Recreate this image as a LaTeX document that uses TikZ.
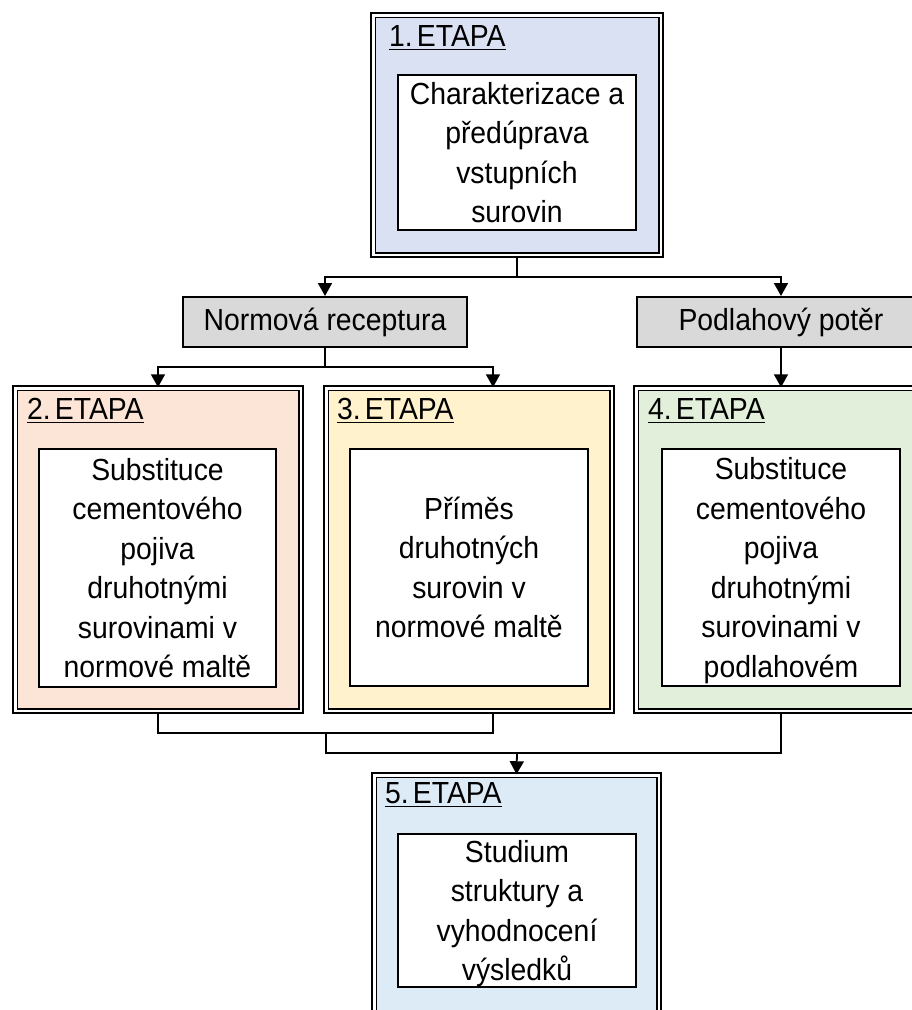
\documentclass[tikz,border=0pt]{standalone}
\usepackage{fontspec}
\setmainfont[FakeStretch=0.93]{Liberation Sans}
\usetikzlibrary{arrows.meta}
\definecolor{cone}{HTML}{DAE1F3}
\definecolor{ctwo}{HTML}{FCE4D6}
\definecolor{cthree}{HTML}{FFF2CC}
\definecolor{cfour}{HTML}{E2EFDA}
\definecolor{cfive}{HTML}{DDEBF7}
\definecolor{cgrey}{HTML}{D9D9D9}
\begin{document}
\begin{tikzpicture}[x=1pt,y=-1pt,
  every node/.style={font=\fontsize{30.5}{39.5}\selectfont},
  stage/.style={draw=black, line width=1.7pt, double=white, double distance=2.8pt, inner sep=0pt},
  inbox/.style={draw=black, fill=white, line width=2pt, inner sep=0pt, align=center, text depth=0pt},
  greybox/.style={draw=black, fill=cgrey, line width=2pt, inner sep=0pt},
  ttl/.style={anchor=base west, inner sep=0pt},
  uline/.style={line width=1.5pt},
  conn/.style={line width=1.8pt},
  arr/.style={conn, -{Triangle[width=14pt,length=13pt]}}]
\useasboundingbox (0,0) rectangle (912,1010);
\fill[white] (0,0) rectangle (912,1010);
\clip (0,0) rectangle (912,1010);

% stage boxes
\node[stage, fill=cone,   minimum width=287.8pt, minimum height=239.8pt] (b1) at (517,135) {};
\node[stage, fill=ctwo,   minimum width=285.8pt, minimum height=322.8pt] (b2) at (158,549.5) {};
\node[stage, fill=cthree, minimum width=285.8pt, minimum height=322.8pt] (b3) at (469,549.5) {};
\node[stage, fill=cfour,  minimum width=289.8pt, minimum height=322.8pt] (b4) at (781,549.5) {};
\node[stage, fill=cfive,  minimum width=284.8pt, minimum height=261.8pt] (b5) at (516.5,906) {};

% titles
\node[ttl] (t1) at (389,46) {1.\hspace{4pt}ETAPA};
\node[ttl] (t2) at (27,419) {2.\hspace{4pt}ETAPA};
\node[ttl] (t3) at (337,419) {3.\hspace{4pt}ETAPA};
\node[ttl] (t4) at (648,419) {4.\hspace{4pt}ETAPA};
\node[ttl] (t5) at (385,803) {5.\hspace{4pt}ETAPA};
\foreach \t in {t1,t2,t3,t4,t5}
  \draw[uline] ([yshift=-3.5pt]\t.base west) -- ([yshift=-3.5pt]\t.base east);

% inner boxes
\node[inbox, minimum width=238pt, minimum height=155pt] (i1) at (517,152.5)
  {Charakterizace a\\předúprava\\vstupních\\surovin};
\node[inbox, minimum width=237pt, minimum height=238pt] (i2) at (157.5,568)
  {Substituce\\cementového\\pojiva\\druhotnými\\surovinami v\\normové maltě};
\node[inbox, minimum width=238pt, minimum height=237pt] (i3) at (469,567.5)
  {Příměs\\druhotných\\surovin v\\normové maltě};
\node[inbox, minimum width=238pt, minimum height=237pt] (i4) at (781,567.5)
  {Substituce\\cementového\\pojiva\\druhotnými\\surovinami v\\podlahovém};
\node[inbox, minimum width=238pt, minimum height=153pt] (i5) at (517,910.5)
  {Studium\\struktury a\\vyhodnocení\\výsledků};

% grey boxes
\node[greybox, minimum width=284pt, minimum height=50pt] (norm) at (325,322) {Normová receptura};
\node[greybox, minimum width=288pt, minimum height=50pt] (podl) at (781,322) {Podlahový potěr};

% connectors
\coordinate (j1) at (517,277);
\coordinate (j2) at (325,367);
\coordinate (m1) at (326,733);
\coordinate (m2) at (517,753);
\draw[conn] (b1.south) -- (j1);
\draw[arr] (j1) -| (norm.north);
\draw[arr] (j1) -| (podl.north);
\draw[conn] (norm.south) -- (j2);
\draw[arr] (j2) -| (b2.north);
\draw[arr] (j2) -| ([xshift=24pt]b3.north);
\draw[arr] (podl.south) -- (b4.north);
\draw[conn] (b2.south) |- (m1) -| ([xshift=24pt]b3.south);
\draw[conn] (m1) |- (m2) -| (b4.south);
\draw[arr] (m2) -- (b5.north);
\end{tikzpicture}
\end{document}
